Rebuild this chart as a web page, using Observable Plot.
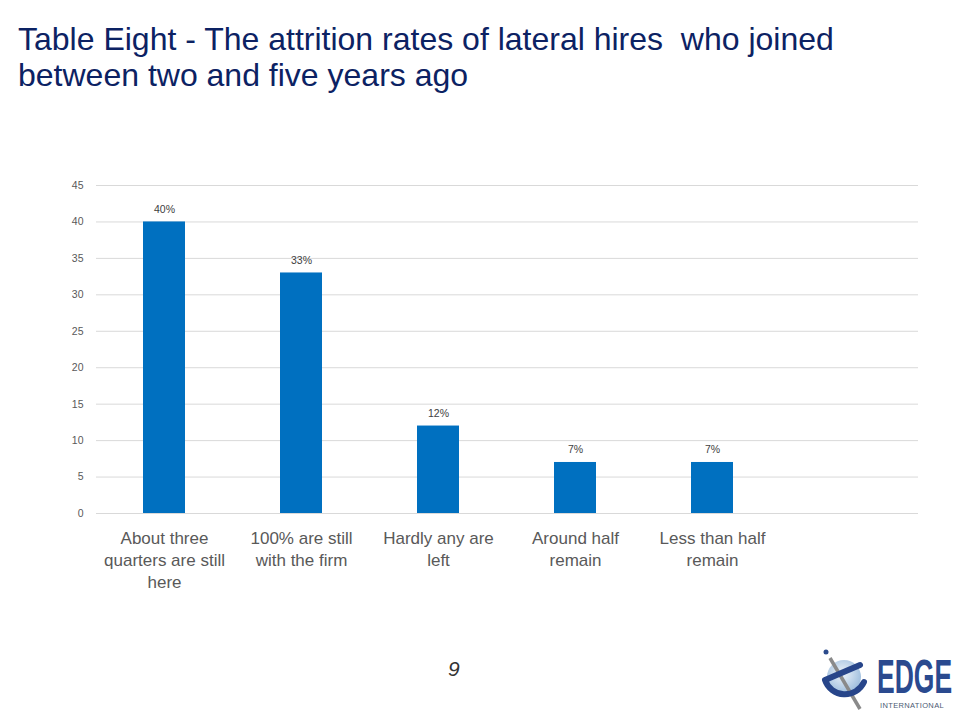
<!DOCTYPE html>
<html><head><meta charset="utf-8">
<script src="https://cdn.jsdelivr.net/npm/d3@7"></script>
<script src="https://cdn.jsdelivr.net/npm/@observablehq/plot@0.6"></script>
<style>
body{margin:0;width:960px;height:720px;position:relative;background:#fff;overflow:hidden;font-family:"Liberation Sans",Arial,sans-serif}
#title{position:absolute;left:18px;top:21px;font-size:32px;line-height:36px;color:#0c2263;white-space:pre}
#chart{position:absolute;left:0;top:170px}
#page{position:absolute;left:448px;top:657px;font-style:italic;font-size:21px;color:#333}
#logo{position:absolute;left:0;top:0}
</style>
</head><body>
<div id="title">Table Eight - The attrition rates of lateral hires  who joined
between two and five years ago</div>
<div id="chart"></div>
<div id="page">9</div>
<svg id="logo" width="960" height="720" style="pointer-events:none">
  <defs>
    <radialGradient id="gl" cx="0.45" cy="0.4" r="0.6">
      <stop offset="0" stop-color="#eef4fa"/>
      <stop offset="1" stop-color="#9dbddd"/>
    </radialGradient>
  </defs>
  <circle cx="844" cy="677" r="17" fill="url(#gl)"/>
  <line x1="830" y1="658" x2="860" y2="709" stroke="#8a8a8a" stroke-width="3.5"/>
  <circle cx="826" cy="652" r="2.5" fill="#2b4a8c"/>
  <path d="M825 680 L860 665 M825 680 A21 21 0 0 0 864 682" fill="none" stroke="#27458a" stroke-width="6" stroke-linecap="round"/>
  <text transform="translate(877,693) scale(1,1.78)" font-family="Liberation Sans, Arial" font-weight="bold" font-size="26.5" fill="#2a4a8f">EDGE</text>
  <text x="880" y="708" font-family="Liberation Sans, Arial" font-size="7.5" letter-spacing="0.35" fill="#4b5a73">INTERNATIONAL</text>
</svg>
<script>
const categories = ["About three quarters are still here","100% are still with the firm","Hardly any are left","Around half remain","Less than half remain"];
const tickLabels = ["About three\nquarters are still\nhere","100% are still\nwith the firm","Hardly any are\nleft","Around half\nremain","Less than half\nremain"];
const values = [40,33,12,7,7];
const valueLabels = ["40%","33%","12%","7%","7%"];
const yTicks = [0,5,10,15,20,25,30,35,40,45];

const data = categories.map((c,i)=>({category:c, value:values[i], label:valueLabels[i]}));
const labelOf = new Map(categories.map((c,i)=>[c,tickLabels[i]]));

const chart = Plot.plot({
  width:960, height:440,
  marginLeft:96, marginRight:42, marginTop:15, marginBottom:97,
  style:{fontFamily:'"Liberation Sans", Arial, sans-serif', background:"transparent"},
  x:{domain:[...categories, " "], paddingInner:0.69, paddingOuter:0.345, label:null},
  y:{domain:[0,45], label:null},
  marks:[
    Plot.gridY(yTicks, {stroke:"#d9d9d9", strokeOpacity:1}),
    Plot.barY(data, {x:"category", y:"value", fill:"#0070c0"}),
    Plot.ruleY([0], {stroke:"#d9d9d9"}),
    Plot.text(data, {x:"category", y:"value", text:"label", lineAnchor:"bottom", dy:-9, fontSize:10.5, fill:"#404040"}),
    Plot.axisY(yTicks, {tickSize:0, tickPadding:13, fontSize:10.5, fill:"#595959", label:null}),
    Plot.axisX({tickSize:0, tickPadding:15, fontSize:17, fill:"#595959", lineHeight:1.3, tickFormat:d=>labelOf.get(d) ?? "", label:null})
  ]
});
document.getElementById("chart").appendChild(chart);
</script>
</body></html>
